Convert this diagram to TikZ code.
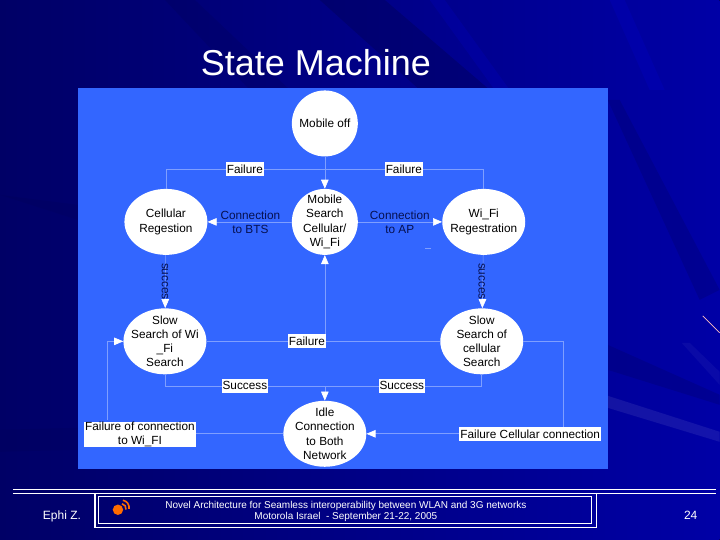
\documentclass[tikz,border=0pt]{standalone}
\usepackage{fontspec}
\setmainfont{Liberation Sans}
\usetikzlibrary{shapes.geometric,arrows.meta}
\definecolor{panelblue}{HTML}{3366FF}
\definecolor{linkblue}{HTML}{7F9FFF}
\definecolor{labelnavy}{HTML}{06104F}
\tikzset{
	state/.style={ellipse, fill=white, inner sep=0pt, minimum width=83pt, minimum height=66pt},
	roundstate/.style={state, minimum width=66pt},
	statetext/.style={align=center, text=black, inner sep=0pt, font=\fontsize{11.8}{14.2}\selectfont},
	tag/.style={fill=white, inner xsep=1pt, inner ysep=0pt, minimum height=14pt, align=center, font=\fontsize{11.8}{14.2}\selectfont},
	plaintag/.style={align=center, text=labelnavy, inner sep=0pt, font=\fontsize{11.8}{14.2}\selectfont},
	link/.style={draw=linkblue, line width=0.6pt},
	tip/.style={link, -{Triangle[fill=white, color=white, length=9pt, width=7.5pt]}},
	footer/.style={text=white, align=center, inner sep=0pt}
}
\begin{document}
\begin{tikzpicture}[x=1pt, y=-1pt]
	% slide background
	\fill[left color=blue!40!black, right color=blue!65!black] (0,0) rectangle (720,540);
	\fill[blue!30!black, opacity=0.2] (165,0) -- (195,0) -- (290,90) -- (250,90) -- cycle;
	\fill[blue!30!black, opacity=0.35] (320,0) -- (385,0) -- (490,90) -- (420,90) -- cycle;
	\fill[blue!30!black, opacity=0.2] (608,100) -- (620,100) -- (720,290) -- (700,300) -- cycle;
	\fill[blue, opacity=0.12] (430,0) -- (445,0) -- (510,90) -- (495,90) -- cycle;
	\fill[blue, opacity=0.12] (610,0) -- (625,0) -- (665,90) -- (650,90) -- cycle;
	\fill[blue!30!black, opacity=0.2] (608,345) -- (720,395) -- (720,405) -- (608,370) -- cycle;
	\fill[blue!30!black, opacity=0.15] (0,195) -- (78,205) -- (78,220) -- cycle;
	\fill[blue!30!black, opacity=0.15] (0,430) -- (78,428) -- (78,450) -- (0,452) -- cycle;
	\fill[white, opacity=0.08] (608,396) -- (720,432) -- (720,442) -- (608,408) -- cycle;
	\fill[white, opacity=0.04] (682,343) -- (690,343) -- (720,372) -- (720,385) -- cycle;
	\draw[pink, line width=0.7pt] (703,316) -- (720,333);
	% panel and title
	\fill[panelblue] (78,88) rectangle (608,469);
	\node[text=white, inner sep=0pt, font=\fontsize{36}{40}\selectfont] (title) at (316,63) {State Machine};
	% states
	\node[roundstate, label={[statetext]center:Mobile off}] (off) at (325,123.5) {};
	\node[roundstate, label={[statetext]center:{Mobile\\Search\\Cellular/\\Wi\_Fi}}] (search) at (325,222) {};
	\node[state, label={[statetext]center:{Cellular\\Regestion}}] (cellular) at (166,222) {};
	\node[state, label={[statetext]center:{Wi\_Fi\\Regestration}}] (wifi) at (484,222) {};
	\node[state, label={[statetext]center:{Slow\\Search of Wi\\\_Fi\\Search}}] (slowwifi) at (165,341.5) {};
	\node[state, label={[statetext]center:{Slow\\Search of\\cellular\\Search}}] (slowcell) at (482,341.5) {};
	\node[state, label={[statetext]center:{Idle\\Connection\\to Both\\Network}}] (idle) at (325,434) {};
	% corners
	\coordinate (failleft) at (166,169);
	\coordinate (failright) at (484,169);
	\coordinate (failmid) at (325,169);
	\coordinate (backmid) at (325,341.5);
	\coordinate (succleft) at (165,386.5);
	\coordinate (succright) at (482,386.5);
	\coordinate (succmid) at (325,386.5);
	\coordinate (leftup) at (107,420);
	\coordinate (leftturn) at (107,341.5);
	\coordinate (rightturn) at (564,341.5);
	\coordinate (rightdown) at (564,434);
	% connectors
	\draw[tip] (off) -- (search);
	\draw[link] (cellular.north) -- (failleft) -- (failmid);
	\draw[link] (wifi.north) -- (failright) -- (failmid);
	\draw[tip] (search) -- (cellular);
	\draw[tip] (search) -- (wifi);
	\draw[tip] (cellular) -- (slowwifi);
	\draw[tip] (wifi) -- (slowcell);
	\draw[link] (slowwifi) -- (slowcell);
	\draw[tip] (backmid) -- (search);
	\draw[link] (slowwifi.south) -- (succleft) -- (succmid);
	\draw[link] (slowcell.south) -- (succright) -- (succmid);
	\draw[tip] (succmid) -- (idle);
	\draw[link] (idle) -- (140,434);
	\draw[tip] (leftup) -- (leftturn) -- (slowwifi);
	\draw[tip] (slowcell) -- (rightturn) -- (rightdown) -- (idle);
	% labels
	\node[tag] (failA) at (245,169) {Failure};
	\node[tag] (failB) at (404,169) {Failure};
	\node[tag] (failC) at (307,341) {Failure};
	\node[tag] (succA) at (245,386) {Success};
	\node[tag] (succB) at (402,386) {Success};
	\node[tag] (failwifi) at (140,434.5) {Failure of connection\\to Wi\_FI};
	\node[tag] (failcell) at (530.5,434) {Failure Cellular connection};
	\node[plaintag] (bts) at (250.5,222) {Connection\\to BTS};
	\node[plaintag] (ap) at (400,222) {Connection\\to AP};
	\node[plaintag, rotate=-90] (succC) at (165,281.5) {succes};
	\node[plaintag, rotate=-90] (succD) at (482,281.5) {succes};
	\draw[linkblue, line width=0.6pt] (425,248.5) -- (431,248.5);
	% footer
	\draw[white, line width=1pt] (13,490) -- (716,490);
	\draw[white, line width=1.2pt] (13,493.5) -- (716,493.5);
	\draw[white, line width=1.2pt] (95,493.5) rectangle (597,528);
	\draw[white, line width=1pt] (99,497) rectangle (592,523.5);
	\fill[orange!85!red] (118,510) circle (5.2);
	\draw[orange!85!red, line width=1.6pt] (122,504) arc (-80:10:5);
	\draw[orange!85!red, line width=1.6pt] (123,500.5) arc (-80:10:7.5);
	\node[footer, font=\fontsize{12}{14}\selectfont] (author) at (62,516.5) {Ephi Z.};
	\node[footer, font=\fontsize{10}{11.4}\selectfont] (event) at (346,511.5) {Novel Architecture for Seamless interoperability between WLAN and 3G networks\\Motorola Israel\ \ - September 21-22, 2005};
	\node[footer, font=\fontsize{12}{14}\selectfont] (page) at (691,516) {24};
\end{tikzpicture}
\end{document}
